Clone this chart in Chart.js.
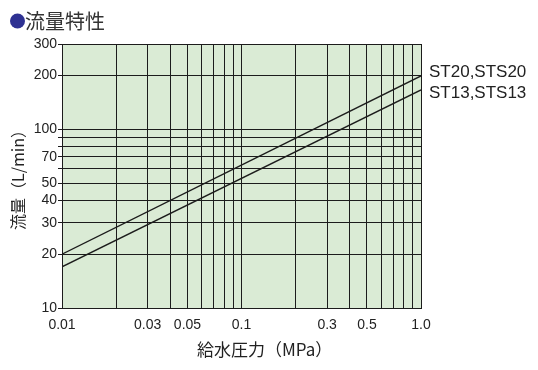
<!DOCTYPE html>
<html>
<head>
<meta charset="utf-8">
<script src="https://cdn.jsdelivr.net/npm/chart.js@4"></script>
<style>
  html, body { margin: 0; padding: 0; background: #fff; }
  #wrap { width: 538px; height: 370px; }
</style>
</head>
<body>
<div id="wrap"><canvas id="flowChart" width="538" height="370"></canvas></div>
<script>
// supply pressure (MPa) at the line ends
const pressure = [0.01, 1.0];
// flow rate (L/min)
const st20 = [20, 199];
const st13 = [17, 166];
const seriesNames = ['ST20,STS20', 'ST13,STS13'];

// grid lines and labelled ticks
const xGridValues = [0.01, 0.02, 0.03, 0.04, 0.05, 0.06, 0.07, 0.08, 0.09,
  0.1, 0.2, 0.3, 0.4, 0.5, 0.6, 0.7, 0.8, 0.9, 1.0];
const xLabelValues = [0.01, 0.03, 0.05, 0.1, 0.3, 0.5, 1.0];
const xLabelTexts = ['0.01', '0.03', '0.05', '0.1', '0.3', '0.5', '1.0'];
const yGridValues = [10, 20, 30, 40, 50, 60, 70, 80, 90, 100, 200, 300];
const yLabelValues = [10, 20, 30, 40, 50, 70, 100, 200, 300];

const title = '流量特性';
const xTitle = '給水圧力（MPa）';
const yTitle = '流量（L/min）';

const ink = '#1c1c1c';
const numFont = '"Liberation Sans", Arial, sans-serif';
const jpFont = '"Noto Sans CJK JP", sans-serif';

const plotBg = {
  id: 'plotBg',
  beforeDraw(chart) {
    const { ctx, chartArea: a } = chart;
    ctx.save();
    ctx.fillStyle = '#daebd5';
    ctx.fillRect(a.left, a.top, a.right - a.left, a.bottom - a.top);
    ctx.restore();
  }
};

const extraText = {
  id: 'extraText',
  afterDraw(chart) {
    const ctx = chart.ctx;
    const xs = chart.scales.x, ys = chart.scales.y;
    ctx.save();
    // heading
    ctx.fillStyle = '#2e3192';
    ctx.beginPath();
    ctx.arc(17.5, 21, 7.5, 0, Math.PI * 2);
    ctx.fill();
    ctx.fillStyle = '#333';
    ctx.font = '20px ' + jpFont;
    ctx.textBaseline = 'middle';
    ctx.textAlign = 'left';
    ctx.fillText(title, 25, 21);

    // series names at right end of lines
    ctx.fillStyle = '#222';
    ctx.font = '17px ' + numFont;
    const ends = [st20[st20.length - 1], st13[st13.length - 1]];
    const nudge = [-4, 3];
    const lx = xs.getPixelForValue(pressure[pressure.length - 1]) + 8;
    seriesNames.forEach((name, i) => {
      ctx.fillText(name, lx, ys.getPixelForValue(ends[i]) + nudge[i]);
    });

    // x axis title
    ctx.font = '17px ' + jpFont;
    ctx.fillText(xTitle, 197, 350);
    ctx.restore();
  }
};

const ctx = document.getElementById('flowChart').getContext('2d');
const flowChart = new Chart(ctx, {
  type: 'line',
  data: {
    datasets: [
      {
        label: seriesNames[0],
        data: pressure.map((p, i) => ({ x: p, y: st20[i] })),
        borderColor: ink,
        borderWidth: 1.4,
        pointRadius: 0,
        fill: false
      },
      {
        label: seriesNames[1],
        data: pressure.map((p, i) => ({ x: p, y: st13[i] })),
        borderColor: ink,
        borderWidth: 1.4,
        pointRadius: 0,
        fill: false
      }
    ]
  },
  options: {
    responsive: false,
    animation: false,
    layout: { padding: { left: 0, top: 44, right: 117, bottom: 0 } },
    plugins: {
      legend: { display: false },
      tooltip: { enabled: false }
    },
    scales: {
      x: {
        type: 'logarithmic',
        min: 0.01,
        max: 1,
        afterBuildTicks: scale => { scale.ticks = xGridValues.map(v => ({ value: v })); },
        afterFit: scale => { scale.height = 62; },
        grid: { color: ink, lineWidth: 1, drawTicks: false },
        border: { color: ink, width: 1 },
        ticks: {
          autoSkip: false,
          maxRotation: 0,
          padding: 9,
          color: '#222',
          font: { family: numFont, size: 14 },
          callback: v => {
            const i = xLabelValues.indexOf(v);
            return i >= 0 ? xLabelTexts[i] : '';
          }
        }
      },
      y: {
        type: 'logarithmic',
        min: 10,
        max: 300,
        afterBuildTicks: scale => { scale.ticks = yGridValues.map(v => ({ value: v })); },
        afterFit: scale => { scale.width = 62; },
        grid: { color: ink, lineWidth: 1, drawTicks: true, tickLength: 4 },
        border: { color: ink, width: 1 },
        title: {
          display: true,
          text: yTitle,
          color: '#222',
          font: { family: jpFont, size: 16 },
          padding: { top: 8, bottom: 0 }
        },
        ticks: {
          autoSkip: false,
          padding: 1,
          color: '#222',
          font: { family: numFont, size: 14 },
          callback: v => (yLabelValues.indexOf(v) >= 0 ? String(v) : '')
        }
      }
    }
  },
  plugins: [plotBg, extraText]
});
</script>
</body>
</html>
